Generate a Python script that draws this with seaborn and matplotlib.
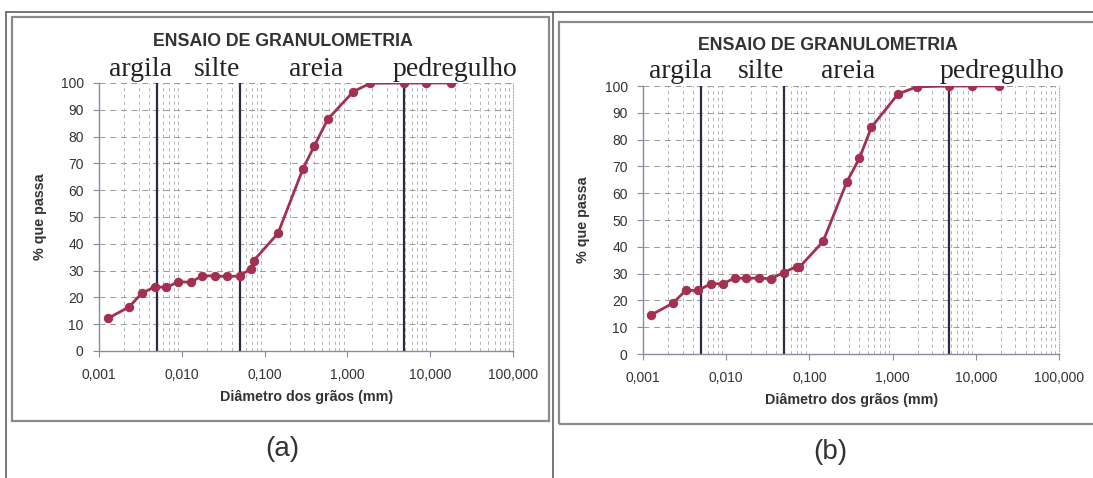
import numpy as np
import pandas as pd
import matplotlib
matplotlib.use("Agg")
import matplotlib.pyplot as plt
import seaborn as sns
from matplotlib.ticker import FixedLocator, FuncFormatter, LogLocator, NullFormatter
from matplotlib.patches import Rectangle
from matplotlib.lines import Line2D

# Grain-size distribution, sample (a)
diam_a = [0.00129, 0.00232, 0.00327, 0.00473, 0.00653, 0.00912, 0.0128, 0.0177,
          0.0250, 0.0351, 0.050, 0.0677, 0.0736, 0.145, 0.29, 0.398, 0.58,
          1.18, 1.89, 4.8, 8.9, 17.8]
pass_a = [12.2, 16.5, 21.5, 24.0, 23.7, 25.9, 25.6, 28.1, 28.0, 27.8, 28.0,
          30.6, 33.7, 43.9, 67.9, 76.5, 86.5, 96.8, 99.9, 100.0, 100.0, 100.0]

# Grain-size distribution, sample (b)
diam_b = [0.00126, 0.00229, 0.00326, 0.00458, 0.00651, 0.0091, 0.0126, 0.0174,
          0.0246, 0.0346, 0.049, 0.070, 0.076, 0.146, 0.283, 0.40, 0.556,
          1.16, 1.96, 4.8, 9.1, 19.0]
pass_b = [14.6, 19.0, 23.7, 23.7, 26.2, 26.2, 28.3, 28.3, 28.3, 28.1, 30.4,
          32.6, 32.4, 42.0, 64.3, 73.1, 84.6, 97.0, 99.7, 100.0, 100.0, 100.0]

# Soil fraction boundaries (mm) and names
limits = [0.005, 0.05, 4.8]
fractions = ["argila", "silte", "areia", "pedregulho"]
x_ticks = [0.001, 0.01, 0.1, 1, 10, 100]
y_ticks = list(range(0, 101, 10))
panel_labels = ["(a)", "(b)"]

title = "ENSAIO DE GRANULOMETRIA"
xlabel = "Diâmetro dos grãos (mm)"
ylabel = "% que passa"

W, H = 1093, 478
sns.set_theme(style="white")
plt.rcParams["font.family"] = ["Liberation Sans", "DejaVu Sans"]

fig = plt.figure(figsize=(W / 100, H / 100), dpi=100)
fig.patch.set_facecolor("white")


def fx(x):
    return x / W


def fy(y):
    return 1 - y / H


# outer page lines and chart frames
for (x0, y0, x1, y1) in [(6, 12, W, 12), (6, 12, 6, H), (553, 12, 553, H)]:
    fig.add_artist(Line2D([fx(x0), fx(x1)], [fy(y0), fy(y1)],
                          transform=fig.transFigure, color="#606060", lw=1.2))
for (x0, y0, x1, y1) in [(12, 17, 549, 421), (559, 22, W + 2, 424)]:
    fig.add_artist(Rectangle((fx(x0), fy(y1)), fx(x1 - x0), (y1 - y0) / H,
                             transform=fig.transFigure, fill=False,
                             edgecolor="#8a8a8a", lw=1.6))

line_color = "#a33050"
panels = [
    dict(d=diam_a, p=pass_a, box=(99, 83, 513, 351), title_xy=(283, 41),
         zone_x=[141, 217, 316, 455], zone_y=69, lab_xy=(282, 449),
         xlab_y=397, ylab_x=40),
    dict(d=diam_b, p=pass_b, box=(643, 86, 1059, 354), title_xy=(828, 45),
         zone_x=[681, 761, 848, 1002], zone_y=72, lab_xy=(830, 452),
         xlab_y=400, ylab_x=583),
]

for i, pn in enumerate(panels):
    x0, y0, x1, y1 = pn["box"]
    ax = fig.add_axes([fx(x0), fy(y1), fx(x1 - x0), (y1 - y0) / H])
    ax.set_facecolor("white")
    df = pd.DataFrame({"d": pn["d"], "p": pn["p"]})
    ax.set_xscale("log")
    ax.set_xlim(0.001, 100)
    ax.set_ylim(0, 100)

    # grid
    ax.xaxis.set_major_locator(FixedLocator(x_ticks))
    ax.xaxis.set_minor_locator(LogLocator(base=10, subs=np.arange(2, 10)))
    ax.xaxis.set_minor_formatter(NullFormatter())
    ax.xaxis.set_major_formatter(
        FuncFormatter(lambda v, _: f"{v:.3f}".replace(".", ",")))
    ax.yaxis.set_major_locator(FixedLocator(y_ticks))
    ax.grid(which="major", axis="y", color="#9a9a9a", lw=0.7,
            linestyle=(0, (6, 5)))
    ax.grid(which="minor", axis="x", color="#a8a8a8", lw=0.6,
            linestyle=(0, (4, 4)))
    ax.grid(which="major", axis="x", visible=False)

    for lim in limits:
        ax.axvline(lim, color="#2b2b45", lw=1.6, zorder=2)

    sns.lineplot(data=df, x="d", y="p", ax=ax, color=line_color, lw=2,
                 marker="o", markersize=6, markeredgecolor=line_color,
                 sort=False, zorder=4)

    ax.set_xlabel("")
    ax.set_ylabel("")
    for s in ["left", "bottom"]:
        ax.spines[s].set_visible(True)
        ax.spines[s].set_color("#8a8aa6")
        ax.spines[s].set_linewidth(1.0)
    ax.spines["top"].set_visible(False)
    ax.spines["right"].set_visible(True)
    ax.spines["right"].set_color("#b0b0b0")
    ax.spines["right"].set_linestyle(":")
    ax.spines["right"].set_linewidth(0.8)

    ax.tick_params(axis="both", which="major", direction="out", length=4,
                   width=0.8, color="#8a8aa6", labelsize=10,
                   labelcolor="#333333", left=True, bottom=True)
    ax.tick_params(axis="y", pad=7)
    ax.tick_params(axis="x", pad=8)
    ax.tick_params(axis="x", which="minor", length=0)

    tx, ty = pn["title_xy"]
    fig.text(fx(tx), fy(ty), title, ha="center", va="center",
             fontsize=12.8, fontweight="bold", color="#333333")
    for name, zx in zip(fractions, pn["zone_x"]):
        fig.text(fx(zx), fy(pn["zone_y"]), name, ha="center", va="center",
                 fontsize=20, family=["Liberation Serif", "DejaVu Serif"],
                 color="#222222")
    fig.text(fx((x0 + x1) / 2 + 1), fy(pn["xlab_y"]), xlabel, ha="center",
             va="center", fontsize=10.3, fontweight="bold", color="#333333")
    fig.text(fx(pn["ylab_x"]), fy((y0 + y1) / 2), ylabel, ha="center",
             va="center", rotation=90, fontsize=10.3, fontweight="bold",
             color="#333333")
    lx, ly = pn["lab_xy"]
    fig.text(fx(lx), fy(ly), panel_labels[i], ha="center", va="center",
             fontsize=20, color="#333333")

fig.savefig("out.png", dpi=100, facecolor="white")
